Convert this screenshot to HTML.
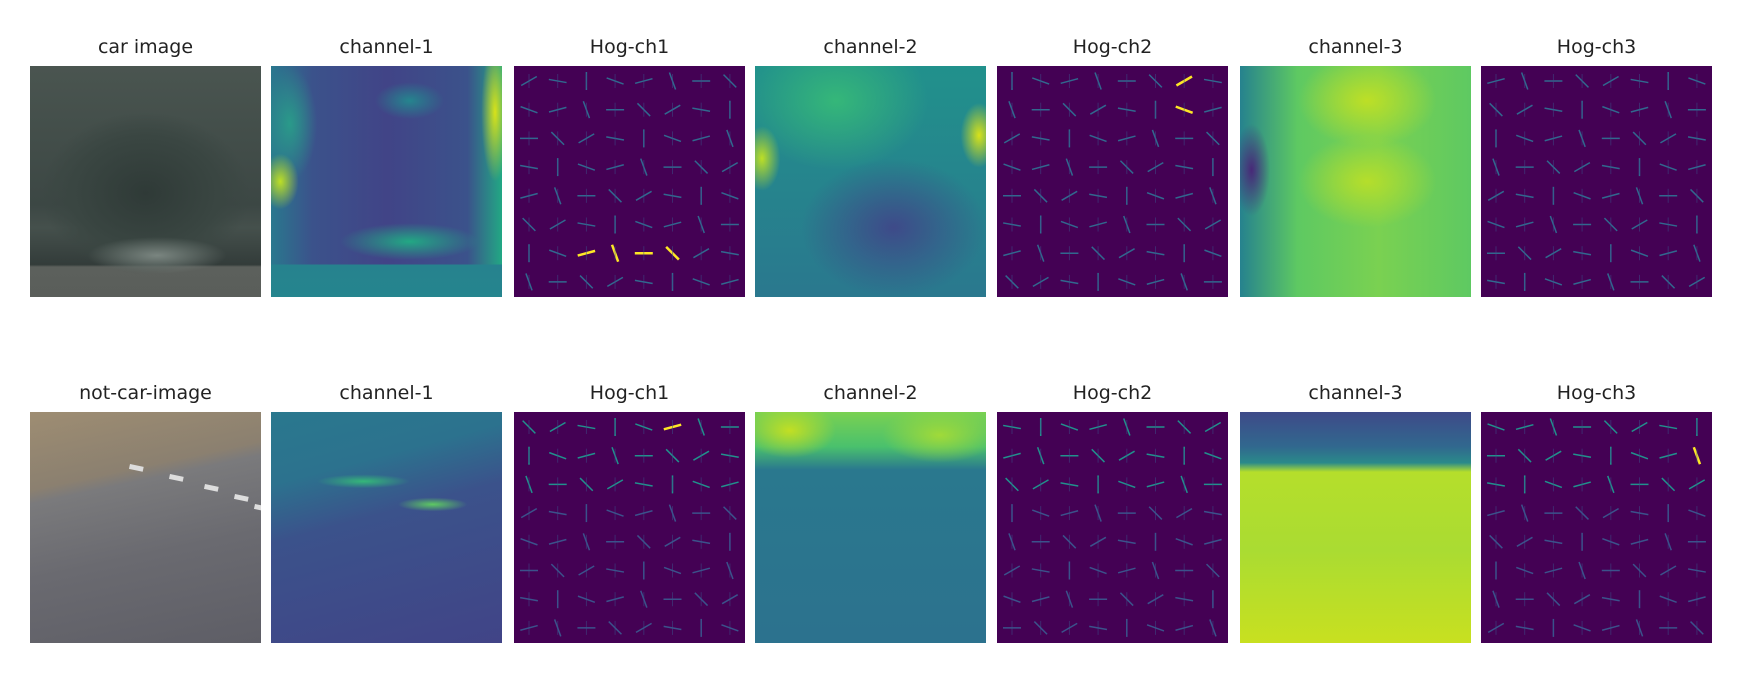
<!DOCTYPE html>
<html><head><meta charset="utf-8">
<style>
body{margin:0;background:#fff;width:1742px;height:686px;position:relative;overflow:hidden;font-family:"Liberation Sans","DejaVu Sans",sans-serif}
.t{position:absolute;width:231px;text-align:center;font-size:19px;color:#222;font-family:"DejaVu Sans","Liberation Sans",sans-serif}
.p{position:absolute;width:231px;height:231px;overflow:hidden}
.hog{background:#440154}
</style></head><body>
<div id="root"></div>
<script>
const cols=[30,271,514,755,997,1240,1481];
const rows=[66,412];
const titles=[["car image","channel-1","Hog-ch1","channel-2","Hog-ch2","channel-3","Hog-ch3"],
["not-car-image","channel-1","Hog-ch1","channel-2","Hog-ch2","channel-3","Hog-ch3"]];
const bgs=[
["radial-gradient(ellipse 30% 8% at 55% 82%,#7a8580,transparent),radial-gradient(ellipse 45% 35% at 50% 55%,#2f3a37,#3a4642 70%,transparent 100%),linear-gradient(to bottom,#4a5550 0%,#3c4744 60%,#45504c 70%,#333c3a 86%,#5c605c 87%,#5a5e5a 100%)",
 "linear-gradient(to bottom,transparent 86%,#26828e 86%,#25858e 100%),radial-gradient(ellipse 6% 30% at 97% 20%,#d8e219,transparent),radial-gradient(ellipse 8% 12% at 4% 50%,#bddf26,transparent),radial-gradient(ellipse 30% 8% at 60% 76%,#22a884,transparent),radial-gradient(ellipse 15% 8% at 60% 15%,#25858e,transparent),radial-gradient(ellipse 12% 25% at 8% 25%,#2a9a8a,transparent),linear-gradient(to right,#2a788e 0%,#3b528b 18%,#414487 50%,#3b528b 85%,#22a884 100%)",
 "",
 "radial-gradient(ellipse 8% 14% at 3% 40%,#bddf26,transparent),radial-gradient(ellipse 8% 14% at 97% 30%,#d8e219,transparent),radial-gradient(ellipse 40% 30% at 35% 15%,#35b779,transparent),radial-gradient(ellipse 40% 30% at 60% 70%,#3e4a89,transparent),linear-gradient(#21918c,#2a788e)",
 "",
 "radial-gradient(ellipse 8% 20% at 5% 45%,#482878,transparent),radial-gradient(ellipse 30% 20% at 55% 15%,#bddf26,transparent),radial-gradient(ellipse 30% 20% at 55% 50%,#b5de2b,transparent),linear-gradient(to right,#26828e 0%,#5ec962 25%,#7ad151 60%,#5ec962 100%)",
 ""],
["linear-gradient(168deg,#9e8d72 0%,#8b8070 28%,#7a7a7c 33%,#6a6a70 60%,#5e5e66 100%)",
 "radial-gradient(ellipse 20% 3% at 40% 30%,#35b779,transparent),radial-gradient(ellipse 15% 3% at 70% 40%,#5ec962,transparent),linear-gradient(165deg,#2a788e 0%,#2c728e 25%,#3b528b 45%,#414487 100%)",
 "",
 "radial-gradient(ellipse 20% 12% at 15% 8%,#c2df23,transparent),radial-gradient(ellipse 25% 12% at 80% 10%,#a0da39,transparent),linear-gradient(#7ad151 0%,#4ac16d 15%,#2a788e 25%,#2c728e 100%)",
 "",
 "linear-gradient(#3e4a89 0%,#31688e 15%,#2a8a8a 22%,#b5de2b 26%,#aadc32 60%,#c8e020 100%)",
 ""]];
const root=document.getElementById('root');
for(let r=0;r<2;r++)for(let c=0;c<7;c++){
 const t=document.createElement('div');t.className='t';
 
 
 t.style.left=cols[c]+'px';t.style.top=(rows[r]-30)+'px';t.textContent=titles[r][c];root.appendChild(t);
 const p=document.createElement('div');p.className='p';
 
 
 p.style.left=cols[c]+'px';p.style.top=rows[r]+'px';
 if(c%2==0&&c>0){
  p.classList.add('hog');
  let s='<svg width="231" height="231">';
  for(let i=0;i<8;i++)for(let j=0;j<8;j++){
   const k=(i*7+j*13+c*5+r*3)%8;
   const ang=[0,20,-30,70,90,45,-15,10][k];
   let bright=r==1?(i<3?0.6:0.2):0.45;
   if(r==0&&c==2&&i==6&&j>=2&&j<=5)bright=1.2;
   if(r==0&&c==4&&i<2&&j==6)bright=1.2;
   if(r==1&&c==2&&i==0&&j==5)bright=1.2;
   if(r==1&&c==6&&i==1&&j==7)bright=1.2;
   const col=bright>1?'#fde725':bright>0.55?'#21918c':bright>0.4?'#31688e':'#3b528b';
   const cx=15+j*28.7,cy=15+i*28.7;
   s+='<line x1="'+(cx-9)+'" y1="'+cy+'" x2="'+(cx+9)+'" y2="'+cy+'" stroke="'+col+'" stroke-width="'+(bright>1?2.5:1.5)+'" transform="rotate('+ang+' '+cx+' '+cy+')"/>';
   s+='<line x1="'+cx+'" y1="'+(cy-7)+'" x2="'+cx+'" y2="'+(cy+7)+'" stroke="#3b528b" stroke-width="1" opacity="0.5"/>';
  }
  p.innerHTML=s+'</svg>';
 } else p.style.background=bgs[r][c];
 if(r==1&&c==0){
  let s='<svg width="231" height="231">';
  [[100,52],[140,62],[175,72],[205,82],[225,92]].forEach(d=>s+='<rect x="'+d[0]+'" y="'+d[1]+'" width="14" height="5" fill="#ddd" transform="rotate(12 '+d[0]+' '+d[1]+')"/>');
  p.innerHTML=s+'</svg>';
 }
 root.appendChild(p);
}
</script>
</body></html>
